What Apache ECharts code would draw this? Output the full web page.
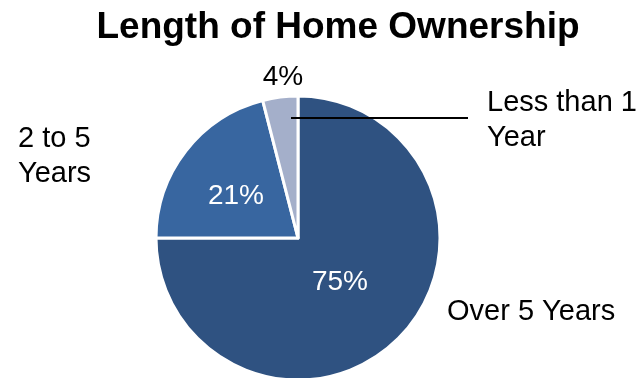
<!DOCTYPE html>
<html>
<head>
<meta charset="utf-8">
<script src="https://cdn.jsdelivr.net/npm/echarts@6/dist/echarts.min.js"></script>
<style>
html,body{margin:0;padding:0;background:#fff;}
#chart{width:638px;height:378px;}
</style>
</head>
<body>
<div id="chart"></div>
<script>
var titleText = 'Length of Home Ownership';
var categories = ['Over 5 Years', '2 to 5\nYears', 'Less than 1\nYear'];
var values = [75, 21, 4];
var percentLabels = ['75%', '21%', '4%'];

var colors = ['#2F5281', '#3866A0', '#A4AFCA'];
var FONT = '"Liberation Sans", Arial, sans-serif';

// label placement (layout only)
var pctPos = [[340, 282], [236, 196], [283, 77]];
var namePos = [[447, 312], [18, 156], [487, 120]];

var chart = echarts.init(document.getElementById('chart'), null, {renderer: 'canvas'});

var pieData = categories.map(function (c, i) {
  var d = {name: c, value: values[i], itemStyle: {color: colors[i]}};
  if (i === 2) { d.label = {color: '#000'}; }
  return d;
});

var option = {
  animation: false,
  title: {
    text: titleText,
    left: 333,
    textAlign: 'center',
    top: 4,
    textStyle: {fontFamily: FONT, fontWeight: 'bold', fontSize: 37, color: '#000'}
  },
  series: [
    {
      type: 'pie',
      center: [298, 238],
      radius: [0, 142],
      startAngle: 90,
      clockwise: true,
      silent: true,
      data: pieData,
      itemStyle: {borderColor: '#fff', borderWidth: 3},
      label: {
        show: true,
        position: 'inside',
        formatter: function (p) { return percentLabels[p.dataIndex]; },
        fontFamily: FONT,
        fontSize: 28,
        color: '#fff'
      },
      labelLine: {show: false},
      labelLayout: function (p) {
        var pos = pctPos[p.dataIndex];
        return {x: pos[0], y: pos[1], align: 'center', verticalAlign: 'middle'};
      },
      emphasis: {disabled: true}
    },
    {
      type: 'pie',
      center: [298, 238],
      radius: [0, 142],
      startAngle: 90,
      clockwise: true,
      silent: true,
      z: 5,
      data: categories.map(function (c, i) {
        return {name: c, value: values[i], itemStyle: {color: 'rgba(0,0,0,0)', borderWidth: 0}};
      }),
      label: {
        show: true,
        position: 'outside',
        formatter: '{b}',
        fontFamily: FONT,
        fontSize: 29,
        lineHeight: 35,
        color: '#000'
      },
      labelLine: {show: true, lineStyle: {color: '#000', width: 2}},
      labelLayout: function (p) {
        var pos = namePos[p.dataIndex];
        var r = {x: pos[0], y: pos[1], align: 'left', verticalAlign: 'middle'};
        if (p.dataIndex === 2) {
          r.labelLinePoints = [[291, 118], [380, 118], [468, 118]];
        } else {
          r.labelLinePoints = [[0, 0], [0, 0], [0, 0]];
        }
        return r;
      },
      emphasis: {disabled: true}
    }
  ]
};
chart.setOption(option);
</script>
</body>
</html>
